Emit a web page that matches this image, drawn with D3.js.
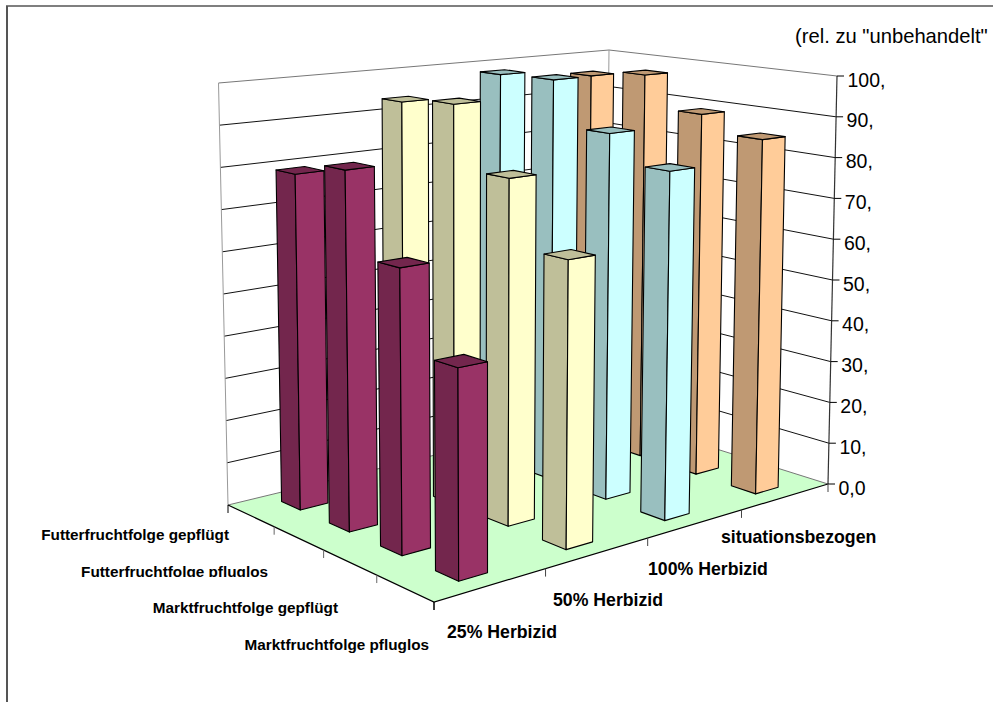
<!DOCTYPE html>
<html>
<head>
<meta charset="utf-8">
<script src="https://cdn.jsdelivr.net/npm/d3@7"></script>
<style>
html,body{margin:0;padding:0;background:#fff;}
svg{display:block;}
text{font-family:"Liberation Sans",Arial,sans-serif;fill:#000;}
</style>
</head>
<body>
<svg id="chart" width="993" height="702"></svg>
<script>
// Chart content
const herbicideLevels = ["25% Herbizid", "50% Herbizid", "100% Herbizid", "situationsbezogen"];
const rotations = ["Futterfruchtfolge gepflügt", "Futterfruchtfolge pfluglos", "Marktfruchtfolge gepflügt", "Marktfruchtfolge pfluglos"];
const valueTicks = [0, 10, 20, 30, 40, 50, 60, 70, 80, 90, 100];
const valueTickLabels = ["0,0", "10,", "20,", "30,", "40,", "50,", "60,", "70,", "80,", "90,", "100,"];
const unitNote = '(rel. zu "unbehandelt"';

// One list per herbicide level, in the order of the rotations
const herbicide25 = [79, 82.5, 63.5, 45.5];
const herbicide50 = [93.5, 95, 80, 64.5];
const herbicide100 = [98, 98.5, 87.5, 81];
const situational = [95.5, 97.5, 89.5, 85.5];
const seriesValues = [herbicide25, herbicide50, herbicide100, situational];

// Face colours per series
const faceRight = ["#993366", "#FFFFCC", "#CCFFFF", "#FFCC99"];
const faceLeft = ["#73264D", "#BFBF99", "#99BFBF", "#BF9973"];
const faceTop = ["#73264D", "#BFBF99", "#99BFBF", "#BF9973"];

// Corners of the plot box on screen: left, back, right, front
const floorCorners = [[228, 505], [605, 414], [828, 484], [434, 602]];
const roofCorners = [[218.5, 83], [609, 50], [837, 76], [431, 120]];

// Homography from the unit square to a screen quadrilateral
function quadMap(q) {
  const [p0, p3, p2, p1] = [q[0], q[1], q[2], q[3]];
  // (a,b) = (0,0)->left, (1,0)->front, (1,1)->right, (0,1)->back
  const dx1 = p1[0] - p2[0], dx2 = p3[0] - p2[0], sx = p0[0] - p1[0] + p2[0] - p3[0];
  const dy1 = p1[1] - p2[1], dy2 = p3[1] - p2[1], sy = p0[1] - p1[1] + p2[1] - p3[1];
  const det = dx1 * dy2 - dx2 * dy1;
  const g = (sx * dy2 - dx2 * sy) / det, h = (dx1 * sy - sx * dy1) / det;
  const a = p1[0] - p0[0] + g * p1[0], b = p3[0] - p0[0] + h * p3[0], c = p0[0];
  const d = p1[1] - p0[1] + g * p1[1], e = p3[1] - p0[1] + h * p3[1], f = p0[1];
  return (u, v) => {
    const w = g * u + h * v + 1;
    return [(a * u + b * v + c) / w, (d * u + e * v + f) / w];
  };
}
const floorAt = quadMap(floorCorners);
const roofAt = quadMap(roofCorners);

// Scales: grid position across the floor and value up the box
const rowScale = d3.scaleBand().domain(d3.range(rotations.length)).range([0, 1]).paddingInner(0.6).paddingOuter(0.3);
const colScale = d3.scaleBand().domain(d3.range(herbicideLevels.length)).range([0, 1]).paddingInner(0.74).paddingOuter(0.37);
const rowEdges = d3.scaleLinear().domain([0, rotations.length]).range([0, 1]);
const colEdges = d3.scaleLinear().domain([0, herbicideLevels.length]).range([0, 1]);
const heightScale = d3.scaleLinear().domain([0, 100]).range([0, 1]);

function project(u, v, value) {
  const t = heightScale(value);
  const a = floorAt(u, v), b = roofAt(u, v);
  return [a[0] + (b[0] - a[0]) * t, a[1] + (b[1] - a[1]) * t];
}

const svg = d3.select("#chart");
const line = d3.line();
const closed = pts => line(pts) + "Z";

// Outer frame of the chart area
svg.append("line").attr("x1", 6).attr("y1", 6).attr("x2", 993).attr("y2", 6)
  .attr("stroke", "#000").attr("stroke-width", 1.2);
svg.append("line").attr("x1", 7).attr("y1", 6).attr("x2", 7).attr("y2", 702)
  .attr("stroke", "#555").attr("stroke-width", 2);

// Floor
svg.append("path").attr("d", closed([project(0, 1, 0), project(1, 1, 0), project(1, 0, 0), project(0, 0, 0)]))
  .attr("fill", "#CCFFCC").attr("stroke", "none");

// Gridlines on the two back walls
const walls = svg.append("g").attr("fill", "none");
valueTicks.forEach(t => {
  const isEnd = t === 0 || t === 100;
  walls.append("path")
    .attr("d", line([project(0, 0, t), project(0, 1, t), project(1, 1, t)]))
    .attr("stroke", isEnd ? "#777" : "#111").attr("stroke-width", 1);
});
[[0, 0], [0, 1]].forEach(([u, v]) => {
  walls.append("path").attr("d", line([project(u, v, 0), project(u, v, 100)]))
    .attr("stroke", "#999").attr("stroke-width", 1);
});

// Floor outline towards the viewer
svg.append("path").attr("d", line([project(0, 0, 0), project(1, 0, 0), project(1, 1, 0)]))
  .attr("fill", "none").attr("stroke", "#000").attr("stroke-width", 1.2);

// Value axis on the right corner
svg.append("path").attr("d", line([project(1, 1, 0), project(1, 1, 100)]))
  .attr("fill", "none").attr("stroke", "#333").attr("stroke-width", 1.2);
valueTicks.forEach((t, i) => {
  const p = project(1, 1, t);
  svg.append("line").attr("x1", p[0]).attr("y1", p[1]).attr("x2", p[0] + 7).attr("y2", p[1])
    .attr("stroke", "#000");
  svg.append("text").attr("x", p[0] + 10.5).attr("y", p[1] + 10.5)
    .attr("font-size", 19.5).text(valueTickLabels[i]);
});

// Tick marks below the floor edges
const tickDrop = 8;
d3.range(rotations.length + 1).forEach(i => {
  const p = project(rowEdges(i), 0, 0);
  svg.append("line").attr("x1", p[0]).attr("y1", p[1]).attr("x2", p[0]).attr("y2", p[1] + tickDrop)
    .attr("stroke", i === 0 || i === rotations.length ? "#000" : "#666");
});
d3.range(herbicideLevels.length + 1).forEach(i => {
  const p = project(1, colEdges(i), 0);
  svg.append("line").attr("x1", p[0]).attr("y1", p[1]).attr("x2", p[0]).attr("y2", p[1] + tickDrop)
    .attr("stroke", i === 0 ? "#000" : "#444");
});

// Bars, painted from the far corner to the near one
const cells = [];
d3.range(herbicideLevels.length).reverse().forEach(c => {
  d3.range(rotations.length).forEach(r => cells.push({ r, c, value: seriesValues[c][r] }));
});
const bars = svg.append("g").attr("stroke", "#000").attr("stroke-width", 1.1).attr("stroke-linejoin", "round");
cells.forEach(({ r, c, value }) => {
  const u0 = rowScale(r), u1 = u0 + rowScale.bandwidth();
  const v0 = colScale(c), v1 = v0 + colScale.bandwidth();
  const leftFace = [project(u0, v0, 0), project(u1, v0, 0), project(u1, v0, value), project(u0, v0, value)];
  const rightFace = [project(u1, v0, 0), project(u1, v1, 0), project(u1, v1, value), project(u1, v0, value)];
  const topFace = [project(u0, v0, value), project(u1, v0, value), project(u1, v1, value), project(u0, v1, value)];
  const g = bars.append("g");
  g.append("path").attr("d", closed(leftFace)).attr("fill", faceLeft[c]);
  g.append("path").attr("d", closed(rightFace)).attr("fill", faceRight[c]);
  g.append("path").attr("d", closed(topFace)).attr("fill", faceTop[c]);
});

// Category labels
const colLabelX = [447, 553, 648, 721];
const colLabelY = d3.scalePoint().domain(herbicideLevels).range([638, 543]);
herbicideLevels.forEach((t, i) => {
  svg.append("text").attr("x", colLabelX[i]).attr("y", colLabelY(t))
    .attr("font-size", 17.7).attr("font-weight", "bold").text(t);
});

const rowLabelEnd = [229, 268, 338, 429];
const rowLabelY = d3.scalePoint().domain(rotations).range([540, 650]);
const defs = svg.append("defs");
defs.append("clipPath").attr("id", "cut-row-label").append("rect")
  .attr("x", 0).attr("y", 560).attr("width", 400).attr("height", 17);
rotations.forEach((t, i) => {
  const label = svg.append("text").attr("x", rowLabelEnd[i]).attr("y", rowLabelY(t))
    .attr("text-anchor", "end").attr("font-size", 15.3).attr("font-weight", "bold").text(t);
  if (i === 1) label.attr("clip-path", "url(#cut-row-label)");
});

// Unit note above the value axis
svg.append("text").attr("x", 795).attr("y", 43).attr("font-size", 20.2).text(unitNote);
</script>
</body>
</html>
